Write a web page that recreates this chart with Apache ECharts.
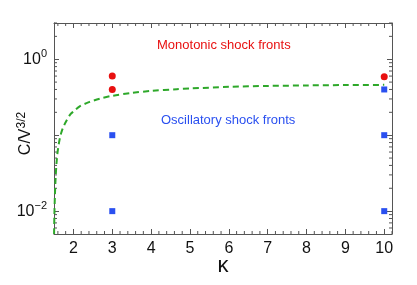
<!DOCTYPE html>
<html><head><meta charset="utf-8">
<script src="https://cdn.jsdelivr.net/npm/echarts@6/dist/echarts.min.js"></script>
<style>html,body{margin:0;padding:0;background:#fff}#c{width:417px;height:285px}</style>
</head><body><div id="c"></div>
<script>
// ---- data ----
const xTicks = [2, 3, 4, 5, 6, 7, 8, 9, 10];
const xMinorTicks = [1.6,1.8,2.2,2.4,2.6,2.8,3.2,3.4,3.6,3.8,4.2,4.4,4.6,4.8,5.2,5.4,5.6,5.8,6.2,6.4,6.6,6.8,7.2,7.4,7.6,7.8,8.2,8.4,8.6,8.8,9.2,9.4,9.6,9.8,10.2];
const yLabelTicks = [0.01, 1];
const yMajorTicks = [0.01, 0.1, 1];
const yMinorTicks = [0.006,0.007,0.008,0.009,0.02,0.03,0.04,0.05,0.06,0.07,0.08,0.09,0.2,0.3,0.4,0.5,0.6,0.7,0.8,0.9,2,3];
const monotonicK = [3, 3, 10];
const monotonicC = [0.6, 0.4, 0.59];
const oscillatoryK = [3, 3, 10, 10, 10];
const oscillatoryC = [0.1, 0.01, 0.4, 0.1, 0.01];
const curveK = [1.502,1.51,1.522,1.535,1.548,1.565,1.589,1.62,1.658,1.7,1.743,1.8,1.915,2.0,2.17,2.4,2.69,3.0,3.5,4.0,4.66,5.0,6.0,7.0,8.0,9.0,10.0];
const curveC = [0.005,0.009,0.0154,0.023,0.0316,0.043,0.058,0.075,0.095,0.113,0.129,0.148,0.187,0.205,0.241,0.272,0.304,0.33,0.36,0.383,0.403,0.412,0.433,0.445,0.452,0.457,0.46];
const X_MIN = 1.5, X_MAX = 10.2, Y_MIN = 0.005, Y_MAX = 3;

const FONT = '"Liberation Sans", Arial, sans-serif';
const axisColor = '#555';
const chart = echarts.init(document.getElementById('c'), null, {renderer: 'canvas'});

function zip(a, b) { return a.map((v, i) => [v, b[i]]); }

chart.setOption({
  animation: false,
  grid: {left: 54, top: 23, right: 25, bottom: 51, containLabel: false, outerBoundsMode: 'none'},
  xAxis: [{
    type: 'value', min: X_MIN, max: X_MAX, position: 'bottom',
    name: 'κ', nameLocation: 'middle', nameGap: 21, nameMoveOverlap: false,
    nameTextStyle: {fontFamily: FONT, fontSize: 22, color: '#111'},
    axisLine: {show: true, lineStyle: {color: axisColor, width: 1}},
    axisTick: {show: true, inside: true, length: 5, customValues: xTicks, lineStyle: {color: axisColor}},
    axisLabel: {customValues: xTicks, fontFamily: FONT, fontSize: 16, color: '#111', margin: 7},
    splitLine: {show: false}
  }, {
    type: 'value', min: X_MIN, max: X_MAX, position: 'top',
    axisLine: {show: true, lineStyle: {color: axisColor, width: 1}},
    axisTick: {show: true, inside: true, length: 5, customValues: xTicks, lineStyle: {color: axisColor}},
    axisLabel: {show: false},
    splitLine: {show: false}
  }],
  yAxis: [{
    type: 'log', logBase: 10, min: Y_MIN, max: Y_MAX, position: 'left',
    name: 'C/V{sup|3/2}', nameLocation: 'middle', nameGap: 18, nameRotate: 90, nameMoveOverlap: false,
    nameTextStyle: {fontFamily: FONT, fontSize: 16, color: '#111', padding: [0, 10, 0, 0],
      rich: {sup: {fontFamily: FONT, fontSize: 12, color: '#111', verticalAlign: 'top', padding: [0,0,8,0]}}},
    axisLine: {show: true, lineStyle: {color: axisColor, width: 1}},
    axisTick: {show: true, inside: true, length: 5, customValues: yMajorTicks, lineStyle: {color: axisColor}},
    axisLabel: {
      customValues: yLabelTicks, margin: 7, fontFamily: FONT, fontSize: 16, color: '#111',
      formatter: function (v) { const e = Math.round(Math.log10(v)); return '10{sup|' + (e < 0 ? '\u2212' + (-e) : e) + '}'; },
      rich: {sup: {fontFamily: FONT, fontSize: 11, color: '#111', padding: [0,0,10,0]}}
    },
    splitLine: {show: false}
  }, {
    type: 'log', logBase: 10, min: Y_MIN, max: Y_MAX, position: 'right',
    axisLine: {show: true, lineStyle: {color: axisColor, width: 1}},
    axisTick: {show: true, inside: true, length: 5, customValues: yMajorTicks, lineStyle: {color: axisColor}},
    axisLabel: {show: false},
    splitLine: {show: false}
  }],
  series: [
    {
      type: 'custom', xAxisIndex: 0, yAxisIndex: 0, clip: false, silent: true, z: 1,
      data: xMinorTicks.map(v => [v, Y_MIN]),
      renderItem: function (params, api) {
        const v = api.value(0);
        const b = api.coord([v, Y_MIN]);
        const t = api.coord([v, Y_MAX]);
        const st = {stroke: axisColor, lineWidth: 1};
        return {type: 'group', children: [
          {type: 'line', shape: {x1: b[0], y1: b[1], x2: b[0], y2: b[1] - 3}, style: st},
          {type: 'line', shape: {x1: t[0], y1: t[1], x2: t[0], y2: t[1] + 3}, style: st}
        ]};
      }
    },
    {
      type: 'custom', xAxisIndex: 0, yAxisIndex: 0, clip: false, silent: true, z: 1,
      data: yMinorTicks.map(v => [X_MIN, v]),
      renderItem: function (params, api) {
        const v = api.value(1);
        const l = api.coord([X_MIN, v]);
        const r = api.coord([X_MAX, v]);
        const st = {stroke: axisColor, lineWidth: 1};
        return {type: 'group', children: [
          {type: 'line', shape: {x1: l[0], y1: l[1], x2: l[0] + 3, y2: l[1]}, style: st},
          {type: 'line', shape: {x1: r[0], y1: r[1], x2: r[0] - 3, y2: r[1]}, style: st}
        ]};
      }
    },
    {
      type: 'line', data: zip(curveK, curveC), smooth: 0.3, showSymbol: false, symbol: 'none',
      lineStyle: {color: '#2ea82a', width: 2, type: [6, 4]}, z: 3
    },
    {
      type: 'scatter', data: zip(monotonicK, monotonicC), symbol: 'circle', symbolSize: 7,
      itemStyle: {color: '#e81010', opacity: 1}, z: 4
    },
    {
      type: 'scatter', data: zip(oscillatoryK, oscillatoryC), symbol: 'rect', symbolSize: 6,
      itemStyle: {color: '#2a50f0', opacity: 1}, z: 4
    }
  ],
  graphic: [
    {type: 'text', left: 225 - 68, top: 39, style: {text: 'Monotonic shock fronts', fill: '#e81010', font: '13px ' + FONT}},
    {type: 'text', left: 161, top: 114, style: {text: 'Oscillatory shock fronts', fill: '#2a50f0', font: '13px ' + FONT}}
  ]
});
</script></body></html>
